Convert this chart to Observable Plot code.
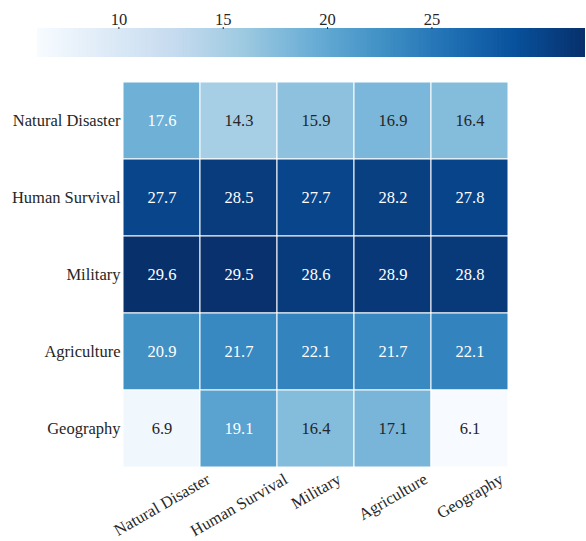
<!DOCTYPE html>
<html>
<head>
<meta charset="utf-8">
<script src="https://cdn.jsdelivr.net/npm/d3@7"></script>
<script src="https://cdn.jsdelivr.net/npm/@observablehq/plot@0.6"></script>
<style>
  body { margin: 0; background: #fff; }
  #chart svg { display: block; }
  #chart svg, #chart svg text { font-family: "Liberation Serif", "Times New Roman", serif !important; }
</style>
</head>
<body>
<div id="chart"></div>
<script>
// ---- data ----
const rowLabels = ["Natural Disaster", "Human Survival", "Military", "Agriculture", "Geography"];
const colLabels = ["Natural Disaster", "Human Survival", "Military", "Agriculture", "Geography"];
const naturalDisaster = [17.6, 14.3, 15.9, 16.9, 16.4];
const humanSurvival   = [27.7, 28.5, 27.7, 28.2, 27.8];
const military        = [29.6, 29.5, 28.6, 28.9, 28.8];
const agriculture     = [20.9, 21.7, 22.1, 21.7, 22.1];
const geography       = [6.9, 19.1, 16.4, 17.1, 6.1];
const colorbarTicks = [10, 15, 20, 25];
const colorbarMax = 32.36; // right end of the drawn colorbar

const seriesRows = [naturalDisaster, humanSurvival, military, agriculture, geography];
const cells = [];
rowLabels.forEach((r, i) => colLabels.forEach((c, j) => cells.push({row: r, col: c, value: seriesRows[i][j]})));

const vmin = d3.min(cells, d => d.value);
const vmax = d3.max(cells, d => d.value);
const blues9 = ["#f7fbff","#deebf7","#c6dbef","#9ecae1","#6baed6","#4292c6","#2171b5","#08519c","#08306b"];
const interp = d3.piecewise(d3.interpolateRgb, blues9);
const colorOf = v => interp((v - vmin) / (vmax - vmin));
function luminance(c) {
  const col = d3.rgb(c);
  const lin = x => { x = x / 255; return x <= 0.03928 ? x / 12.92 : Math.pow((x + 0.055) / 1.055, 2.4); };
  return 0.2126 * lin(col.r) + 0.7152 * lin(col.g) + 0.0722 * lin(col.b);
}
const isDark = d => luminance(colorOf(d.value)) > 0.408;

const FONT = "'Liberation Serif', 'Times New Roman', serif";
const FS = 16.5;
const textColor = "#262626";

// ---- colorbar ----
const nSlices = 400;
const slices = d3.range(nSlices).map(i => {
  const a = vmin + (colorbarMax - vmin) * i / nSlices;
  const b = vmin + (colorbarMax - vmin) * (i + 1) / nSlices;
  return {x1: a, x2: b + (colorbarMax - vmin) / nSlices * 0.6, fill: interp(i / (nSlices - 1))};
});
const colorbar = Plot.plot({
  width: 586,
  height: 65,
  marginLeft: 37,
  marginRight: 1,
  marginTop: 28,
  marginBottom: 8,
  style: {fontFamily: FONT, fontSize: FS + "px", color: textColor, background: "transparent"},
  x: {domain: [vmin, colorbarMax], clamp: true},
  y: {domain: [0, 1], axis: null},
  color: {type: "identity"},
  marks: [
    Plot.rect(slices, {x1: "x1", x2: d => Math.min(d.x2, colorbarMax), y1: 0, y2: 1, fill: "fill"}),
    Plot.axisX({anchor: "top", ticks: colorbarTicks, tickSize: 2, tickPadding: 2, label: null, tickFormat: d => d, fontSize: FS, fontFamily: FONT})
  ]
});

// ---- heatmap ----
const canvas = document.createElement("canvas");
const ctx = canvas.getContext("2d");
ctx.font = `${FS}px "Liberation Serif"`;
const sin30 = 0.5, cos30 = Math.sqrt(3) / 2;
const xLabelMarks = colLabels.map(lab => {
  const w = ctx.measureText(lab).width;
  const bboxH = w * sin30 + FS * 0.75 * cos30;
  return Plot.text([lab], {
    x: d => d, text: d => d, frameAnchor: "bottom",
    rotate: -30, textAnchor: "middle", lineAnchor: "middle",
    dy: 4 + bboxH / 2, fill: textColor, fontSize: FS, fontFamily: FONT
  });
});

const heat = Plot.plot({
  width: 586,
  height: 476,
  marginLeft: 122,
  marginRight: 77,
  marginTop: 16,
  marginBottom: 73,
  style: {fontFamily: FONT, fontSize: FS + "px", color: textColor, background: "transparent"},
  x: {domain: colLabels, padding: 0, axis: null},
  y: {domain: rowLabels, padding: 0, label: null},
  color: {type: "linear", domain: [vmin, vmax], interpolate: interp},
  marks: [
    Plot.cell(cells, {x: "col", y: "row", fill: "value", stroke: "white", strokeWidth: 1, inset: 0}),
    Plot.text(cells.filter(d => !isDark(d)), {x: "col", y: "row", text: d => d.value.toFixed(1), fill: "white", fontSize: FS, fontFamily: FONT}),
    Plot.text(cells.filter(d => isDark(d)), {x: "col", y: "row", text: d => d.value.toFixed(1), fill: textColor, fontSize: FS, fontFamily: FONT}),
    Plot.axisY({tickSize: 0, tickPadding: 2, label: null, fontSize: FS, fontFamily: FONT}),
    ...xLabelMarks
  ]
});

const root = document.getElementById("chart");
root.appendChild(colorbar);
root.appendChild(heat);
</script>
</body>
</html>
